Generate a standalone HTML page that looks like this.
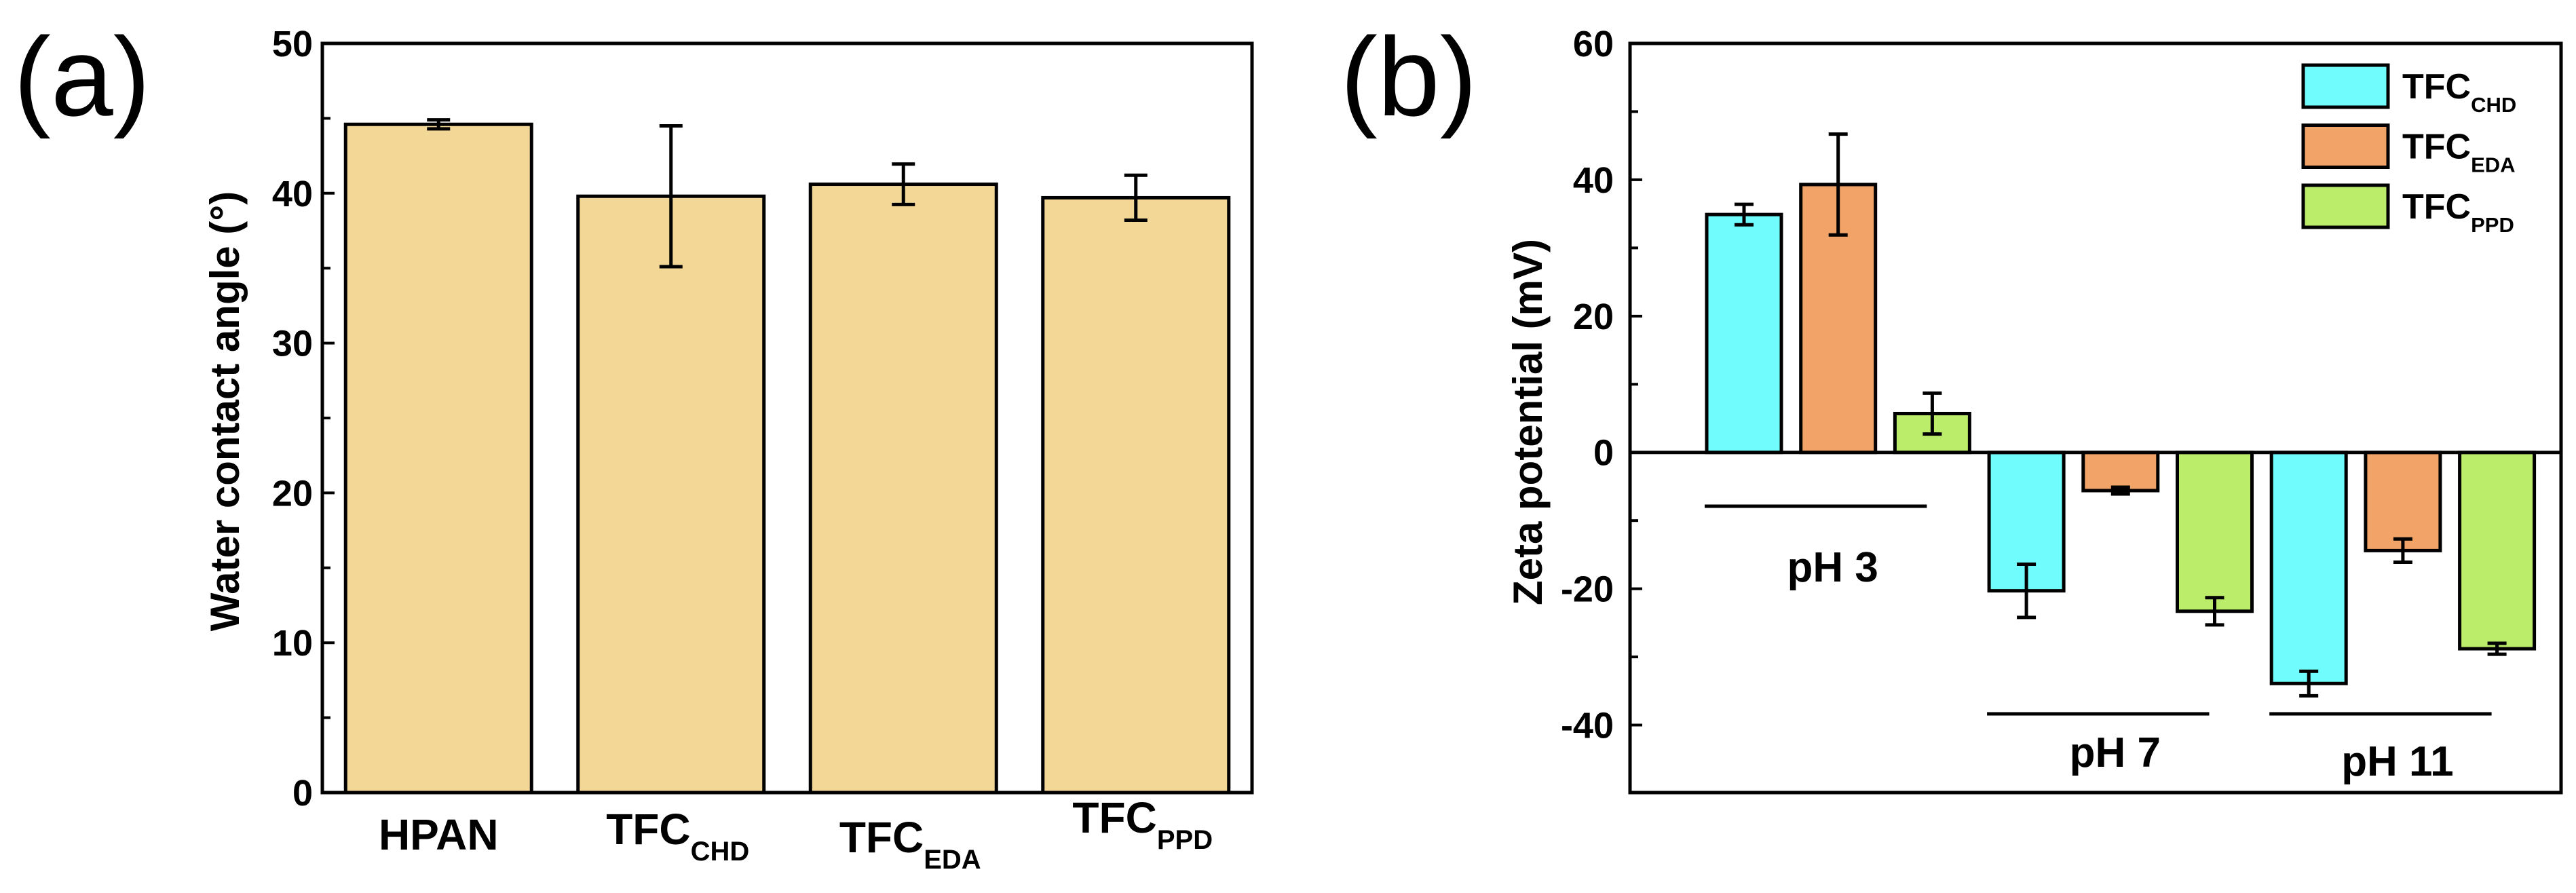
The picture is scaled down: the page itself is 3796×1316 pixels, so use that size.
<!DOCTYPE html>
<html><head><meta charset="utf-8"><style>
html,body{margin:0;padding:0;background:#fff;}
svg{display:block;font-family:"Liberation Sans",Arial,sans-serif;}
</style></head><body>
<svg id="fig" width="3796" height="1316" viewBox="0 0 3796 1316" xmlns="http://www.w3.org/2000/svg">
<text x="20" y="170" font-size="165">(a)</text>
<text x="1975" y="170" font-size="165">(b)</text>
<g id="ga"></g>
<g id="gb"></g>
</svg>
<script>
// Panel (a) data
const catsA = ["HPAN","TFC|CHD","TFC|EDA","TFC|PPD"];
const valsA = [44.6, 39.8, 40.6, 39.7];
const errA = [0.3, 4.7, 1.35, 1.5];
const ticksA = [0,10,20,30,40,50];
// Panel (b) data
const groupsB = ["pH 3","pH 7","pH 11"];
const seriesB = ["CHD","EDA","PPD"];
const chdB = [34.9, -20.3, -33.9];
const edaB = [39.3, -5.6, -14.4];
const ppdB = [5.7, -23.3, -28.8];
const chdErr = [1.5, 3.9, 1.8];
const edaErr = [7.4, 0.5, 1.7];
const ppdErr = [3.0, 2.0, 0.8];
const ticksB = [-40,-20,0,20,40,60];

const NS="http://www.w3.org/2000/svg";
function mk(p,tag,at){const e=document.createElementNS(NS,tag);for(const k in at)e.setAttribute(k,at[k]);p.appendChild(e);return e;}

// ---------- Panel A ----------
const ga=document.getElementById('ga');
const aL=475,aR=1845,aT=64,aB=1168;
const yA=v=>aB-(v-0)/(50-0)*(aB-aT);
const pitchA=(aR-aL)/catsA.length;
const xA=i=>aL+pitchA*(i+0.5);
const bwA=pitchA*0.8;
const colA="#f2d796";
valsA.forEach((v,i)=>{
  const r=mk(ga,'rect',{x:xA(i)-bwA/2,y:yA(v),width:bwA,height:yA(0)-yA(v),fill:colA,stroke:"#000","stroke-width":5});
  
  
  const cx=xA(i),t=yA(v+errA[i]),b=yA(v-errA[i]);
  const e=mk(ga,'path',{d:`M${cx},${t}V${b}M${cx-17},${t}H${cx+17}M${cx-17},${b}H${cx+17}`,stroke:"#000","stroke-width":5,fill:"none"});
  
  
});
// ticks
for(let v=0;v<=50;v+=5){
  const len=(v%10===0)?18:12;
  const tk=mk(ga,'line',{x1:aL,x2:aL+len,y1:yA(v),y2:yA(v),stroke:"#000","stroke-width":4});
  
  
}
ticksA.forEach(v=>{
  const t=mk(ga,'text',{x:aL-14,y:yA(v)+19,"text-anchor":"end","font-size":54,"font-weight":"bold"});
  t.textContent=v;
  
  
});
const fa=mk(ga,'rect',{x:aL,y:aT,width:aR-aL,height:aB-aT,fill:"none",stroke:"#000","stroke-width":5});


// x labels
const lblY=[1252,1244,1256,1227];
catsA.forEach((c,i)=>{
  const parts=c.split('|');
  const t=mk(ga,'text',{x:xA(i)+(parts[1]?10:0),y:lblY[i],"text-anchor":"middle","font-size":64,"font-weight":"bold"});
  
  
  const s1=mk(t,'tspan',{});s1.textContent=parts[0];
  if(parts[1]){const s2=mk(t,'tspan',{dy:24,"font-size":40});s2.textContent=parts[1];}
});
const ta=mk(ga,'text',{transform:`translate(352,${(aT+aB)/2-10}) rotate(-90)`,"text-anchor":"middle","font-size":60,"font-weight":"bold"});
ta.textContent="Water contact angle (°)";



// ---------- Panel B ----------
const gb=document.getElementById('gb');
const bL=2402,bR=3774,bT=64,bB=1168;
const yB=v=>bT+(60-v)/(60-(-49.9))*(bB-bT);
const slot=138.7,x0=2570,bwB=110;
const xB=(g,s)=>x0+(g*3+s)*slot;
const colsB=["#70fcfc","#f2a468","#bced6a"];
const valsB=[chdB,edaB,ppdB], errsB=[chdErr,edaErr,ppdErr];
groupsB.forEach((g,gi)=>{
  seriesB.forEach((s,si)=>{
    const v=valsB[si][gi],cx=xB(gi,si);
    const r=mk(gb,'rect',{x:cx-bwB/2,y:Math.min(yB(v),yB(0)),width:bwB,height:Math.abs(yB(v)-yB(0)),fill:colsB[si],stroke:"#000","stroke-width":5});
    
    
    const er=errsB[si][gi],t=yB(v+er),b=yB(v-er);
    const e=mk(gb,'path',{d:`M${cx},${t}V${b}M${cx-14},${t}H${cx+14}M${cx-14},${b}H${cx+14}`,stroke:"#000","stroke-width":5,fill:"none"});
    
    
  });
});
const z=mk(gb,'line',{x1:bL,x2:bR,y1:yB(0),y2:yB(0),stroke:"#000","stroke-width":5});


for(let v=-40;v<=60;v+=10){
  const len=(v%20===0)?18:12;
  const tk=mk(gb,'line',{x1:bL,x2:bL+len,y1:yB(v),y2:yB(v),stroke:"#000","stroke-width":4});
  
  
}
ticksB.forEach(v=>{
  const t=mk(gb,'text',{x:bL-24,y:yB(v)+19,"text-anchor":"end","font-size":54,"font-weight":"bold"});
  t.textContent=v;
  
  
});
const fb=mk(gb,'rect',{x:bL,y:bT,width:bR-bL,height:bB-bT,fill:"none",stroke:"#000","stroke-width":5});


// group lines & labels
const grpLineY=[746,1052,1052];
const grpLblY=[857,1130,1143];
groupsB.forEach((g,gi)=>{
  const l=mk(gb,'line',{x1:xB(gi,0)-58,x2:xB(gi,2)-8,y1:grpLineY[gi],y2:grpLineY[gi],stroke:"#000","stroke-width":5});
  
  
  const t=mk(gb,'text',{x:xB(gi,1)-8,y:grpLblY[gi],"text-anchor":"middle","font-size":62,"font-weight":"bold"});
  t.textContent=g;
  
  
});
// legend
seriesB.forEach((s,si)=>{
  const y=96+si*88.5;
  const r=mk(gb,'rect',{x:3394,y:y,width:125,height:62,fill:colsB[si],stroke:"#000","stroke-width":5});
  
  
  const t=mk(gb,'text',{x:3540,y:y+49,"font-size":52,"font-weight":"bold"});
  
  
  const a=mk(t,'tspan',{});a.textContent="TFC";
  const b=mk(t,'tspan',{dy:20,"font-size":31});b.textContent=s;
});
const tb=mk(gb,'text',{transform:`translate(2272,${(bT+bB)/2+6}) rotate(-90)`,"text-anchor":"middle","font-size":60,"font-weight":"bold"});
tb.textContent="Zeta potential (mV)";


</script>
</body></html>
